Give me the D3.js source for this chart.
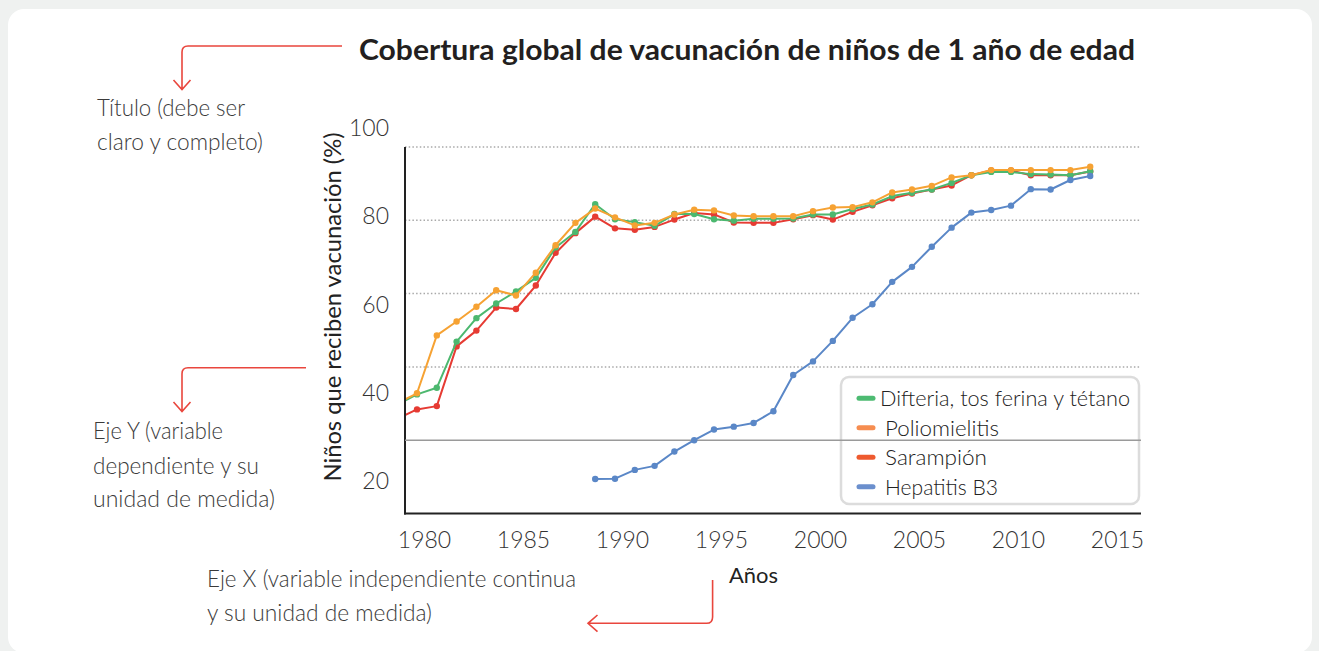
<!DOCTYPE html>
<html><head><meta charset="utf-8">
<script src="https://cdn.jsdelivr.net/npm/d3@7"></script>
<style>
html,body{margin:0;padding:0;background:#eff1f0;}
svg{display:block;}
text{font-family:Lato,"Open Sans",sans-serif;}
</style></head><body>
<svg id="chart" width="1319" height="651"></svg>
<script>
// ---------- data ----------
const years = [1979,1980,1981,1982,1983,1984,1985,1986,1987,1988,1989,1990,1991,1992,1993,1994,1995,1996,1997,1998,1999,2000,2001,2002,2003,2004,2005,2006,2007,2008,2009,2010,2011,2012,2013,2014];
const dtp = [29.7,32.5,34.3,46.9,53.3,57.3,60.6,64.3,72.6,76.8,84.4,80.3,79.5,78.5,81.7,81.7,80.3,79.9,80.4,80.4,80.5,81.6,81.6,83.1,84.3,86.6,87.5,88.4,90.2,92.3,93.2,93.2,92.6,92.5,92.3,93.4];
const polio = [30.0,32.8,48.6,52.4,56.4,60.9,59.5,65.7,73.2,79.3,83.2,80.8,78.6,79.3,81.6,82.9,82.7,81.3,81.1,81.1,81.1,82.5,83.5,83.6,84.9,87.6,88.4,89.4,91.7,92.3,93.7,93.7,93.7,93.7,93.7,94.6];
const measles = [25.8,28.4,29.3,45.6,49.9,56.2,55.8,62.2,71.1,76.5,81.0,77.8,77.4,78.2,80.2,82.0,81.6,79.4,79.3,79.3,80.3,81.4,80.2,82.3,84.1,86.0,87.3,88.4,89.5,92.3,93.6,93.6,92.3,92.3,92.3,93.3];
const hepYears = [1989,1990,1991,1992,1993,1994,1995,1996,1997,1998,1999,2000,2001,2002,2003,2004,2005,2006,2007,2008,2009,2010,2011,2012,2013,2014];
const hepB3 = [9.4,9.5,11.9,13.0,16.9,20.0,22.9,23.7,24.7,27.9,37.8,41.5,47.1,53.4,57.1,63.2,67.3,72.8,78.0,82.1,82.8,84.0,88.5,88.4,91.0,92.1];
const seriesNames = ["Difteria, tos ferina y tétano","Poliomielitis","Sarampión","Hepatitis B3"];
const yTicks = [20,40,60,80,100];
const xTicks = [1980,1985,1990,1995,2000,2005,2010,2015];
const titleText = "Cobertura global de vacunación de niños de 1 año de edad";
const yTitle = "Niños que reciben vacunación (%)";
const xTitle = "Años";

// ---------- drawing ----------
const svg = d3.select("#chart");
const lineCol = {dtp:"#4cb86f", polio:"#f6a233", measles:"#e63b33", hep:"#5a87c7"};
const legCol = ["#4dbb72","#f68d50","#ee5a2f","#6b8fcd"];
const left = 405, right = 1141;

svg.append("rect").attr("width",1319).attr("height",651).attr("fill","#eff1f0");
svg.append("rect").attr("x",8).attr("y",9).attr("width",1304).attr("height",644).attr("rx",16).attr("fill","#ffffff");

const x = d3.scaleLinear().domain([1980,2015]).range([417,1110]);
const y = d3.scaleLinear().domain([0,100]).range([513.5,147]);
const yLab = d3.scaleLinear().domain([20,100]).range([480,127.5]);

// grid
svg.append("g").selectAll("line").data(yTicks.filter(d=>d!==20)).join("line")
  .attr("x1",left).attr("x2",right).attr("y1",d=>y(d)).attr("y2",d=>y(d))
  .attr("stroke","#a9a9a9").attr("stroke-width",1.5).attr("stroke-dasharray","1.5,2.2");

// axes lines
svg.append("line").attr("x1",left).attr("x2",left).attr("y1",y(100)).attr("y2",y(0)+1)
  .attr("stroke","#222").attr("stroke-width",2);
svg.append("line").attr("x1",left-1).attr("x2",right).attr("y1",y(0)).attr("y2",y(0))
  .attr("stroke","#222").attr("stroke-width",2);

// y tick labels
const ya = svg.append("g").attr("transform","translate(389,0)")
  .call(d3.axisLeft(yLab).tickValues(yTicks).tickSize(0).tickPadding(0));
ya.select(".domain").remove();
ya.selectAll("text").attr("font-family","Lato").attr("font-size",23).attr("font-weight",300).attr("fill","#333").attr("dy","0.36em");

// x tick labels
const xa = svg.append("g").attr("transform",`translate(7,${y(0)})`)
  .call(d3.axisBottom(x).tickValues(xTicks).tickFormat(d3.format("d")).tickSize(0));
xa.select(".domain").remove();
xa.selectAll("text").attr("font-family","Lato").attr("font-size",23).attr("font-weight",300).attr("fill","#333").attr("y",26).attr("dy","0.36em");

// legend box
const lg = svg.append("g");
lg.append("rect").attr("x",841).attr("y",377).attr("width",298).attr("height",127).attr("rx",8)
  .attr("fill","#fff").attr("stroke","#dcdcdc").attr("stroke-width",2.5);
const legY = [398.3,427.7,457.3,486.7];
const legX = [880,885,885,885];
const legW = [250,114,102,113];
seriesNames.forEach((n,i)=>{
  lg.append("line").attr("x1",859).attr("x2",873).attr("y1",legY[i]).attr("y2",legY[i])
    .attr("stroke",legCol[i]).attr("stroke-width",5).attr("stroke-linecap","round");
  lg.append("text").attr("x",legX[i]).attr("y",legY[i]).attr("dy","0.36em")
    .attr("font-size",22).attr("font-weight",300).attr("fill","#222")
    .attr("textLength",legW[i]).attr("lengthAdjust","spacingAndGlyphs").text(n);
});

// solid 20 line
svg.append("line").attr("x1",left).attr("x2",right).attr("y1",y(20)).attr("y2",y(20))
  .attr("stroke","#9a9a9a").attr("stroke-width",1.6);

// series
svg.append("clipPath").attr("id","clip").append("rect").attr("x",left+1).attr("y",0).attr("width",right-left).attr("height",651);
const plot = svg.append("g").attr("clip-path","url(#clip)");
const line = d3.line().x(d=>x(d[0])).y(d=>y(d[1]));
function series(xs, vs, col){
  const pts = xs.map((d,i)=>[d,vs[i]]);
  const g = plot.append("g");
  g.append("path").datum(pts).attr("d",line).attr("fill","none").attr("stroke",col).attr("stroke-width",2).attr("stroke-linejoin","round");
  g.selectAll("circle").data(pts).join("circle").attr("cx",d=>x(d[0])).attr("cy",d=>y(d[1])).attr("r",3.2).attr("fill",col);
}
series(years, measles, lineCol.measles);
series(years, dtp, lineCol.dtp);
series(years, polio, lineCol.polio);
series(hepYears, hepB3, lineCol.hep);

// titles
svg.append("text").attr("x",359).attr("y",60).attr("font-size",29).attr("font-weight",700).attr("fill","#231f20")
  .attr("textLength",776).attr("lengthAdjust","spacingAndGlyphs").text(titleText);
svg.append("text").attr("transform","translate(341,307) rotate(-90)").attr("text-anchor","middle")
  .attr("font-size",23).attr("font-weight",400).attr("fill","#222")
  .attr("textLength",349).attr("lengthAdjust","spacingAndGlyphs").text(yTitle);
svg.append("text").attr("x",729).attr("y",583).attr("font-size",22).attr("font-weight",400).attr("fill","#222")
  .attr("textLength",49).attr("lengthAdjust","spacingAndGlyphs").text(xTitle);

// annotations
const notes = [
  ["Título (debe ser",97,116,148],
  ["claro y completo)",97,150,166],
  ["Eje Y (variable",93,439,130],
  ["dependiente y su",93,473.5,166],
  ["unidad de medida)",93,507,182],
  ["Eje X (variable independiente continua",207,587,369],
  ["y su unidad de medida)",207,621,225]
];
svg.append("g").selectAll("text").data(notes).join("text")
  .attr("x",d=>d[1]).attr("y",d=>d[2]).attr("font-size",23).attr("font-weight",300).attr("fill","#3a3a3a")
  .attr("textLength",d=>d[3]).attr("lengthAdjust","spacingAndGlyphs").text(d=>d[0]);

const red = "#e9463d";
const arr = svg.append("g").attr("fill","none").attr("stroke",red).attr("stroke-width",1.6);
arr.append("path").attr("d","M342,46 H188 Q182,46 182,52 V89 M173.5,80 L182,89.5 L190.5,80");
arr.append("path").attr("d","M306,367.7 H188 Q182,367.7 182,373.7 V411 M173.5,402 L182,411.5 L190.5,402");
arr.append("path").attr("d","M712.6,580 V617 Q712.6,623.3 706.6,623.3 H588 M597.5,615 L588,623.3 L597.5,631.6");
</script>
</body></html>
